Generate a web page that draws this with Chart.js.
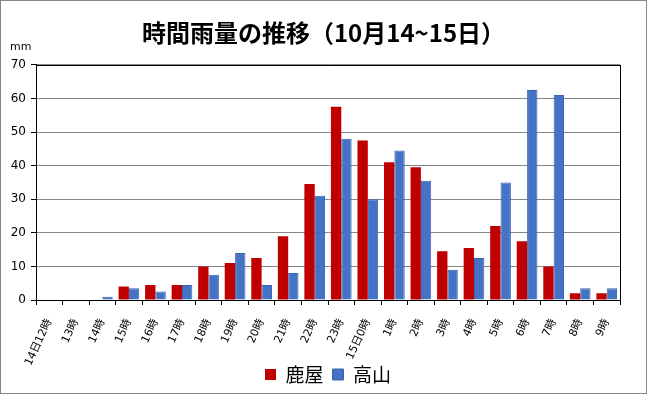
<!DOCTYPE html>
<html>
<head>
<meta charset="utf-8">
<script src="https://cdn.jsdelivr.net/npm/chart.js@4/dist/chart.umd.min.js"></script>
<style>
  html, body { margin: 0; padding: 0; background: #fff; }
  #wrap { width: 647px; height: 394px; }
</style>
</head>
<body>
<div id="wrap"><canvas id="chart-rain" width="647" height="394"></canvas></div>
<script>
const HOURS = [
  '14日12時', '13時', '14時', '15時', '16時', '17時', '18時', '19時', '20時', '21時', '22時', '23時',
  '15日0時', '1時', '2時', '3時', '4時', '5時', '6時', '7時', '8時', '9時',
]
const KANOYA = [0, 0, 0, 4.0, 4.5, 4.5, 10.0, 11.0, 12.5, 19.0, 34.5, 57.5, 47.5, 41.0, 39.5, 14.5, 15.5, 22.0, 17.5, 10.0, 2.0, 2.0]
const TAKAYAMA = [0, 0, 1.0, 3.5, 2.5, 4.5, 7.5, 14.0, 4.5, 8.0, 31.0, 48.0, 30.0, 44.5, 35.5, 9.0, 12.5, 35.0, 62.5, 61.0, 3.5, 3.5]
const Y_MAX = 70
const Y_STEP = 10

const FONT = '"DejaVu Sans", "Noto Sans CJK JP", sans-serif';

// white background, outer frame, plot border and the "mm" unit label
const decorations = {
  id: 'decorations',
  afterLayout(chart) {
    // rotated hour labels run past the axis box, don't let them get clipped
    chart.scales.x.bottom = chart.height;
  },
  beforeDraw(chart) {
    const { ctx } = chart;
    ctx.save();
    ctx.fillStyle = '#fff';
    ctx.fillRect(0, 0, chart.width, chart.height);
    ctx.restore();
  },
  afterDraw(chart) {
    const { ctx, chartArea: a } = chart;
    ctx.save();
    ctx.strokeStyle = '#000';
    ctx.lineWidth = 1;
    ctx.strokeRect(Math.round(a.left) + 0.5, Math.round(a.top) + 0.5, Math.round(a.right - a.left), Math.round(a.bottom - a.top));
    ctx.strokeStyle = '#868686';
    ctx.strokeRect(0.5, 0.5, chart.width - 1, chart.height - 1);
    ctx.fillStyle = '#000';
    ctx.font = '11px ' + FONT;
    ctx.textBaseline = 'middle';
    ctx.fillText('mm', 10, 47);
    ctx.restore();
  }
};

new Chart(document.getElementById('chart-rain'), {
  type: 'bar',
  data: {
    labels: HOURS,
    datasets: [
      { label: '鹿屋', data: KANOYA, backgroundColor: '#C00000', borderWidth: 0 },
      { label: '高山', data: TAKAYAMA, backgroundColor: '#4472C4', borderColor: '#3B64AE', borderWidth: 1 },
    ]
  },
  options: {
    responsive: false,
    animation: false,
    layout: { padding: 0 },
    datasets: { bar: { categoryPercentage: 0.78, barPercentage: 1.0 } },
    plugins: {
      title: {
        display: true,
        text: '時間雨量の推移（10月14~15日）',
        color: '#000',
        font: { family: '"Noto Sans CJK JP", sans-serif', size: 24, weight: 'bold', lineHeight: 1.2 },
        padding: { top: 18, bottom: 18 },
      },
      legend: {
        position: 'bottom',
        fullSize: false,
        labels: {
          color: '#000',
          font: { family: '"Noto Sans CJK JP", sans-serif', size: 19 },
          boxWidth: 11,
          boxHeight: 11,
          padding: 9,
        }
      },
      tooltip: { enabled: false },
    },
    scales: {
      x: {
        grid: { display: true, drawOnChartArea: false, color: '#000', tickLength: 5, offset: true },
        border: { color: '#000' },
        ticks: { color: '#000', font: { family: FONT, size: 11 }, minRotation: 65, maxRotation: 65, autoSkip: false, padding: 12 },
        afterFit(scale) { scale.height = 56; },
      },
      y: {
        min: 0,
        max: Y_MAX,
        grid: { color: '#868686', tickColor: '#000', tickLength: 5 },
        border: { color: '#000' },
        ticks: { stepSize: Y_STEP, color: '#000', font: { family: FONT, size: 12 }, padding: 5 },
        afterFit(scale) { scale.width = 36; },
      },
      // empty right margin so the title centres on the whole frame
      margin: {
        position: 'right',
        grid: { display: false },
        border: { display: false },
        ticks: { display: false },
        afterFit(scale) { scale.width = 27; },
      }
    }
  },
  plugins: [decorations]
});
</script>
</body>
</html>
